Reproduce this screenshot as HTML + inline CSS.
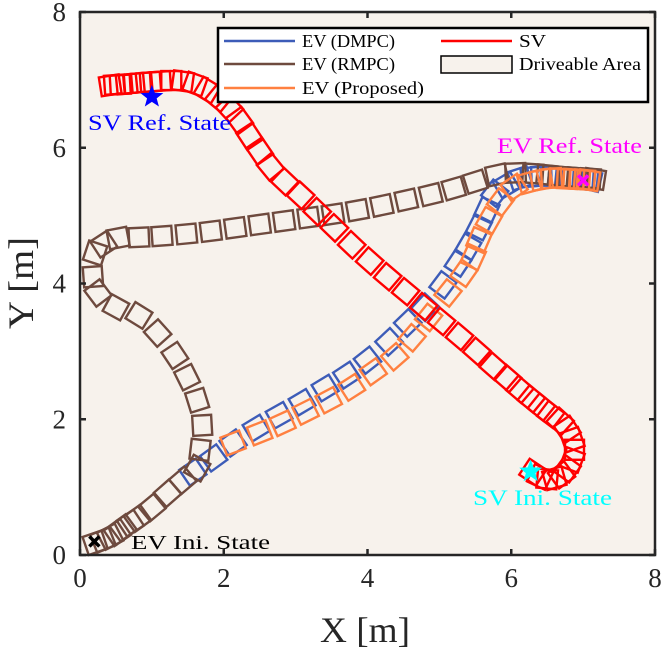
<!DOCTYPE html>
<html><head><meta charset="utf-8"><style>
html,body{margin:0;padding:0;background:#fff;}
svg{display:block;font-family:"Liberation Serif",serif;}
</style></head><body>
<svg id="chart" width="664" height="653" viewBox="0 0 664 653" xmlns="http://www.w3.org/2000/svg"></svg>
<script>
const xTicks=[0,2,4,6,8];
const yTicks=[0,2,4,6,8];
const svPath=[[6.3,1.22],[6.4,1.15],[6.5,1.12],[6.6,1.13],[6.7,1.18],[6.78,1.27],[6.85,1.4],[6.88,1.55],[6.85,1.7],[6.78,1.85],[6.68,1.97],[6.55,2.07],[6.42,2.18],[6.28,2.3],[6.12,2.44],[5.95,2.6],[5.75,2.78],[5.52,3.0],[5.28,3.22],[5.03,3.44],[4.78,3.66],[4.53,3.88],[4.28,4.1],[4.03,4.33],[3.78,4.57],[3.54,4.82],[3.3,5.06],[3.07,5.3],[2.85,5.5],[2.65,5.72],[2.5,5.95],[2.36,6.17],[2.22,6.4],[2.08,6.58],[1.93,6.73],[1.77,6.85],[1.6,6.94],[1.43,6.98],[1.27,6.99],[1.12,6.98],[0.98,6.97],[0.86,6.96],[0.75,6.95],[0.65,6.94],[0.56,6.93],[0.48,6.93],[0.42,6.92]];
const dmpcPath=[[1.57,1.22],[1.86,1.43],[2.13,1.65],[2.45,1.87],[2.77,2.06],[3.09,2.25],[3.41,2.46],[3.71,2.65],[4.0,2.87],[4.3,3.14],[4.56,3.42],[4.8,3.65],[5.05,3.98],[5.26,4.3],[5.4,4.54],[5.55,4.83],[5.66,5.08],[5.77,5.33],[5.93,5.45],[6.12,5.55],[6.28,5.57],[6.42,5.58],[6.55,5.58],[6.66,5.57],[6.76,5.56],[6.85,5.55],[6.93,5.54],[7.0,5.53],[7.06,5.53],[7.1,5.52]];
const proposedPath=[[2.13,1.65],[2.5,1.8],[2.82,1.94],[3.14,2.11],[3.46,2.28],[3.78,2.47],[4.08,2.7],[4.38,2.92],[4.62,3.2],[4.85,3.5],[5.12,3.86],[5.34,4.15],[5.47,4.39],[5.55,4.64],[5.69,4.93],[5.85,5.2],[6.04,5.42],[6.25,5.49],[6.42,5.53],[6.56,5.55],[6.68,5.55],[6.78,5.54],[6.87,5.54],[6.95,5.53],[7.02,5.53],[7.08,5.52]];
const rmpcPath=[[0.21,0.18],[0.32,0.22],[0.42,0.27],[0.52,0.33],[0.6,0.4],[0.7,0.47],[0.8,0.54],[1.0,0.7],[1.22,0.91],[1.43,1.1],[1.63,1.28],[1.67,1.55],[1.7,1.91],[1.63,2.28],[1.49,2.62],[1.32,2.94],[1.08,3.27],[0.82,3.53],[0.5,3.65],[0.25,3.86],[0.18,4.1],[0.21,4.45],[0.33,4.58],[0.53,4.67],[0.82,4.68],[1.14,4.7],[1.48,4.73],[1.82,4.77],[2.16,4.82],[2.5,4.87],[2.84,4.92],[3.18,4.97],[3.52,5.02],[3.86,5.08],[4.2,5.15],[4.54,5.23],[4.88,5.31],[5.2,5.4],[5.5,5.5],[5.8,5.6],[6.06,5.63],[6.3,5.62],[6.5,5.6],[6.66,5.58],[6.8,5.57],[6.92,5.56],[7.02,5.55],[7.1,5.55],[7.16,5.54]];
const evRef=[7.0,5.52], evIni=[0.2,0.2], svRef=[1.0,6.75], svIni=[6.27,1.23];

const L=80,R=655,T=12,B=555;
const sx=v=>L+(v-0)/(8-0)*(R-L);
const sy=v=>B-(v-0)/(8-0)*(B-T);
const NS="http://www.w3.org/2000/svg";
const svg=document.getElementById('chart');
function mk(tag,attrs,parent){const e=document.createElementNS(NS,tag);for(const k in attrs)e.setAttribute(k,attrs[k]);(parent||svg).appendChild(e);return e;}

const bg=mk('rect',{x:L,y:T,width:R-L,height:B-T,fill:'#f7f2ec'});



function drawSeries(path,color,name){
  const g=mk('g',{});
  
  
  const pts=path.map(p=>[sx(p[0]),sy(p[1])]);
  pts.forEach((p,i)=>{
    const a=pts[Math.max(0,i-1)],b=pts[Math.min(pts.length-1,i+1)];
    const ang=Math.atan2(b[1]-a[1],b[0]-a[0])*180/Math.PI;
    const r=mk('rect',{x:-10,y:-9.5,width:20,height:19,fill:'none',stroke:color,'stroke-width':2.4,transform:`translate(${p[0]},${p[1]}) rotate(${ang})`},g);
    
    
  });
}
drawSeries(dmpcPath,'#3d5cb8','ev-dmpc');
drawSeries(rmpcPath,'#6e4a3e','ev-rmpc');
drawSeries(proposedPath,'#ff8040','ev-proposed');
drawSeries(svPath,'#ff0000','sv');

function star(cx,cy,r,color,name){
  let d='';for(let i=0;i<10;i++){const rr=i%2?r*0.42:r;const a=-Math.PI/2+i*Math.PI/5;d+=(i?'L':'M')+(cx+rr*Math.cos(a))+','+(cy+rr*Math.sin(a));}
  const s=mk('path',{d:d+'Z',fill:color});
  
  
}
function cross(cx,cy,color,name){
  const g=mk('g',{stroke:color,'stroke-width':3.5});
  
  
  mk('line',{x1:cx-5,y1:cy-5,x2:cx+5,y2:cy+5},g);mk('line',{x1:cx-5,y1:cy+5,x2:cx+5,y2:cy-5},g);
}
star(sx(svRef[0]),sy(svRef[1]),12,'#0000ff','sv-ref-marker');
star(sx(svIni[0]),sy(svIni[1]),12,'#00ffff','sv-ini-marker');
cross(sx(evRef[0]),sy(evRef[1]),'#ff00ff','ev-ref-marker');
cross(sx(evIni[0]),sy(evIni[1]),'#000000','ev-ini-marker');

function txt(x,y,s,attrs,name){const t=mk('text',Object.assign({x:x,y:y},attrs));t.textContent=s;return t;}
const fit={lengthAdjust:'spacingAndGlyphs'};
txt(88,130,'SV Ref. State',Object.assign({fill:'#0000ff','font-size':22,textLength:143},fit),'sv-ref-label');
txt(497,153,'EV Ref. State',Object.assign({fill:'#ff00ff','font-size':22,textLength:145},fit),'ev-ref-label');
txt(473,505,'SV Ini. State',Object.assign({fill:'#00ffff','font-size':22,textLength:139},fit),'sv-ini-label');
txt(131,549,'EV Ini. State',Object.assign({fill:'#000','font-size':20,textLength:139},fit),'ev-ini-label');

const fr=mk('rect',{x:L,y:T,width:R-L,height:B-T,fill:'none',stroke:'#262626','stroke-width':2.5});


xTicks.forEach(v=>{
  const x=sx(v);
  mk('line',{x1:x,y1:B,x2:x,y2:B-6,stroke:'#262626','stroke-width':2.5});
  mk('line',{x1:x,y1:T,x2:x,y2:T+6,stroke:'#262626','stroke-width':2.5});
  txt(x,587,String(v),{'font-size':27,'text-anchor':'middle',fill:'#262626'},'x-tick-label');
});
yTicks.forEach(v=>{
  const y=sy(v);
  mk('line',{x1:L,y1:y,x2:L+6,y2:y,stroke:'#262626','stroke-width':2.5});
  mk('line',{x1:R,y1:y,x2:R-6,y2:y,stroke:'#262626','stroke-width':2.5});
  txt(66,y+9,String(v),{'font-size':27,'text-anchor':'end',fill:'#262626'},'y-tick-label');
});
txt(365,642,'X [m]',Object.assign({'font-size':36,'text-anchor':'middle',fill:'#262626',textLength:90},fit),'x-axis-title');
txt(0,0,'Y [m]',Object.assign({'font-size':36,'text-anchor':'middle',fill:'#262626',textLength:92,transform:'translate(33,283) rotate(-90)'},fit),'y-axis-title');

const lg=mk('g',{});


const lb=mk('rect',{x:218,y:28,width:430,height:74,fill:'#fff',stroke:'#000','stroke-width':2.5},lg);


const entries=[['EV (DMPC)','#3d5cb8',224,41,93],['EV (RMPC)','#6e4a3e',224,64,93],['EV (Proposed)','#ff8040',224,88,122],['SV','#ff0000',441,41,27]];
entries.forEach(e=>{
  const l=mk('line',{x1:e[2],y1:e[3],x2:e[2]+71,y2:e[3],stroke:e[1],'stroke-width':2.5},lg);
  
  
  txt(e[2]+78,e[3]+6,e[0],Object.assign({'font-size':18,fill:'#000',textLength:e[4]},fit),'legend-entry');
});
const da=mk('rect',{x:441,y:56,width:71,height:17,fill:'#f7f2ec',stroke:'#000','stroke-width':1.5},lg);


txt(519,70,'Driveable Area',Object.assign({'font-size':18,fill:'#000',textLength:122},fit),'legend-entry');
</script>
</body></html>
